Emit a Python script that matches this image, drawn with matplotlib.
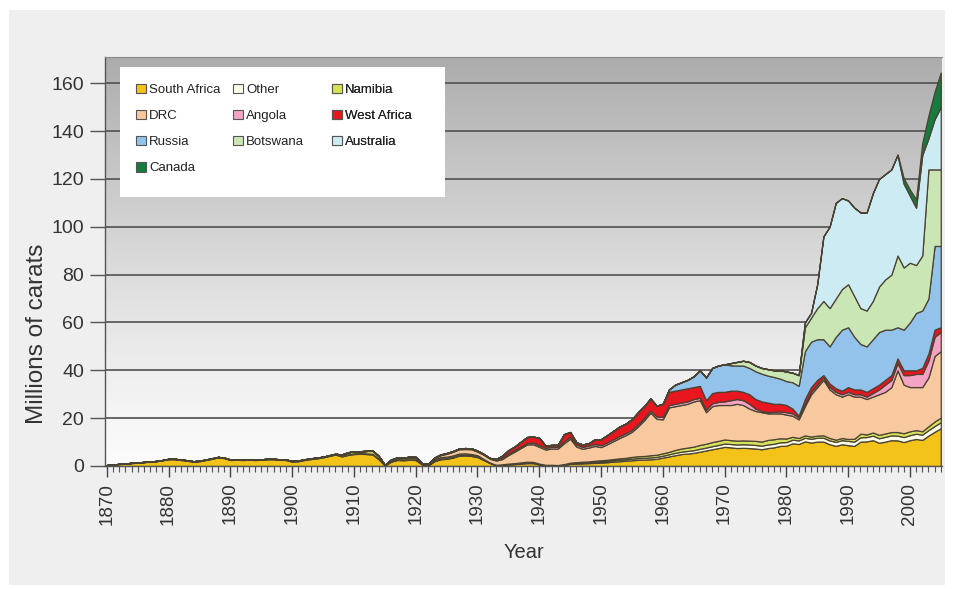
import numpy as np
import matplotlib
matplotlib.use("Agg")
import matplotlib.pyplot as plt
from matplotlib.patches import Rectangle, Patch
from matplotlib.ticker import MultipleLocator

plt.rcParams['font.family'] = ['Liberation Sans', 'DejaVu Sans']

# World rough-diamond production, millions of carats, by producer
years = np.arange(1870, 2006)

south_africa = [
    0.3, 0.5, 0.8, 1.0, 1.2, 1.4, 1.6, 1.8, 2.0, 2.4,
    2.8, 2.8, 2.5, 2.2, 1.8, 2.0, 2.5, 3.0, 3.6, 3.3,
    2.5, 2.6, 2.5, 2.6, 2.5, 2.6, 2.8, 2.8, 2.6, 2.5,
    1.8, 2.0, 2.5, 2.9, 3.2, 3.6, 4.2, 4.8, 4.0, 4.6,
    5.0, 5.1, 5.0, 4.8, 2.8, 0.2, 1.8, 2.5, 2.4, 2.6,
    2.5, 0.7, 0.2, 2.0, 2.8, 3.0, 3.5, 4.3, 4.4, 4.2,
    3.7, 2.5, 1.2, 0.3, 0.5, 0.6, 0.8, 1.0, 1.2, 1.2,
    0.6, 0.2, 0.2, 0.1, 0.4, 0.9, 1.0, 1.1, 1.2, 1.3,
    1.4, 1.6, 1.8, 2.0, 2.2, 2.4, 2.6, 2.7, 2.8, 3.0,
    3.5, 4.0, 4.5, 5.0, 5.2, 5.5, 6.0, 6.5, 7.0, 7.5,
    8.0, 7.8, 7.5, 7.6, 7.5, 7.3, 7.0, 7.5, 7.8, 8.4,
    8.5, 9.5, 9.2, 10.3, 9.8, 10.2, 10.2, 9.1, 8.4, 9.1,
    8.7, 8.4, 10.2, 10.3, 10.8, 9.7, 10.2, 10.8, 10.7, 10.0,
    10.8, 11.3, 10.9, 12.7, 14.3, 15.8,
]

other = [
    0.1, 0.1, 0.1, 0.1, 0.1, 0.1, 0.1, 0.1, 0.1, 0.1,
    0.2, 0.2, 0.2, 0.2, 0.2, 0.2, 0.2, 0.2, 0.2, 0.2,
    0.2, 0.2, 0.2, 0.2, 0.2, 0.2, 0.2, 0.2, 0.2, 0.2,
    0.3, 0.3, 0.3, 0.3, 0.3, 0.3, 0.3, 0.3, 0.3, 0.3,
    0.3, 0.3, 0.3, 0.3, 0.3, 0.1, 0.2, 0.2, 0.2, 0.2,
    0.2, 0.1, 0.1, 0.2, 0.3, 0.3, 0.3, 0.3, 0.3, 0.3,
    0.3, 0.3, 0.2, 0.2, 0.2, 0.3, 0.3, 0.3, 0.4, 0.4,
    0.3, 0.3, 0.3, 0.3, 0.3, 0.4, 0.4, 0.4, 0.4, 0.5,
    0.5, 0.5, 0.6, 0.6, 0.6, 0.7, 0.7, 0.7, 0.8, 0.8,
    0.8, 0.9, 1.0, 1.0, 1.1, 1.1, 1.2, 1.2, 1.3, 1.3,
    1.4, 1.4, 1.5, 1.5, 1.5, 1.5, 1.5, 1.5, 1.5, 1.5,
    1.5, 1.5, 1.5, 1.5, 1.6, 1.6, 1.6, 1.6, 1.7, 1.7,
    1.8, 1.8, 1.8, 1.8, 1.9, 1.9, 2.0, 2.0, 2.0, 2.1,
    2.1, 2.2, 2.2, 2.3, 2.4, 2.5,
]

namibia_start = 1908
namibia = [
    0.5, 0.8,
    0.9, 0.8, 1.0, 1.2, 1.0, 0.1, 0.5, 0.6, 0.6, 0.6,
    0.6, 0.1, 0.1, 0.5, 0.6, 0.6, 0.6, 0.6, 0.6, 0.5,
    0.5, 0.1, 0.05, 0.0, 0.0, 0.1, 0.1, 0.2, 0.2, 0.1,
    0.1, 0.0, 0.0, 0.0, 0.1, 0.1, 0.2, 0.3, 0.3, 0.4,
    0.5, 0.5, 0.5, 0.6, 0.6, 0.7, 0.8, 0.8, 0.9, 0.9,
    1.0, 1.0, 1.2, 1.3, 1.4, 1.5, 1.6, 1.6, 1.7, 1.7,
    1.7, 1.6, 1.6, 1.6, 1.6, 1.7, 1.7, 1.9, 1.9, 1.7,
    1.5, 1.2, 1.0, 1.0, 0.9, 0.9, 1.0, 1.0, 0.9, 0.9,
    0.8, 1.2, 1.5, 1.1, 1.3, 1.4, 1.4, 1.4, 1.5, 1.6,
    1.6, 1.5, 1.4, 1.6, 1.9, 1.9,
]

drc_start = 1913
drc = [
    0.2, 0.1, 0.1, 0.2, 0.2, 0.2, 0.3,
    0.3, 0.2, 0.4, 0.6, 0.8, 1.2, 1.5, 1.8, 1.8, 2.0,
    1.5, 1.8, 1.6, 1.8, 2.2, 3.6, 4.8, 6.0, 7.2, 7.4,
    7.0, 6.4, 6.8, 6.9, 8.7, 10.0, 6.5, 5.4, 5.8, 6.2,
    5.5, 6.5, 7.5, 8.5, 9.5, 10.5, 12.5, 15.0, 17.8, 15.0,
    14.2, 18.6, 18.3, 18.2, 18.3, 18.9, 18.7, 13.2, 15.0, 15.0,
    14.4, 14.7, 15.4, 14.8, 13.4, 12.5, 12.3, 11.1, 10.8, 10.4,
    10.0, 8.8, 7.8, 12.2, 17.7, 20.3, 23.2, 20.3, 19.0, 17.3,
    18.7, 17.6, 15.5, 14.8, 15.0, 17.0, 17.4, 18.8, 25.8, 20.3,
    18.5, 18.0, 18.5, 20.4, 27.4, 27.8,
]

angola_start = 1917
angola = [
    0.1, 0.1, 0.2,
    0.2, 0.1, 0.1, 0.2, 0.3, 0.3, 0.3, 0.3, 0.4, 0.4,
    0.4, 0.3, 0.3, 0.3, 0.4, 0.5, 0.6, 0.6, 0.6, 0.7,
    0.7, 0.7, 0.7, 0.7, 0.8, 0.8, 0.8, 0.8, 0.8, 0.8,
    0.8, 0.8, 0.8, 0.8, 0.8, 0.8, 0.9, 0.9, 0.9, 1.0,
    1.0, 1.0, 1.0, 1.0, 1.0, 1.0, 1.0, 1.0, 1.2, 1.3,
    1.5, 2.0, 2.0, 2.0, 2.0, 1.0, 0.5, 0.5, 0.7, 0.8,
    1.0, 1.0, 0.8, 1.0, 1.0, 1.0, 1.0, 1.0, 1.0, 1.0,
    1.0, 1.0, 1.0, 1.0, 1.5, 2.0, 3.0, 3.0, 3.0, 4.0,
    5.0, 5.5, 5.5, 7.0, 8.0, 8.0,
]

west_africa_start = 1933
west_africa = [
    0.3, 1.0, 1.5, 1.5, 2.0, 2.5, 2.5,
    3.0, 1.0, 0.8, 0.8, 3.0, 2.0, 1.0, 1.0, 1.0, 2.0,
    2.5, 3.0, 3.5, 4.0, 4.0, 4.5, 5.0, 5.0, 5.0, 4.5,
    5.5, 5.5, 5.5, 5.5, 5.5, 5.0, 5.0, 4.0, 4.3, 4.2,
    4.0, 4.0, 3.5, 3.5, 4.0, 4.0, 4.0, 4.0, 3.3, 3.2,
    3.0, 2.0, 0.7, 2.0, 2.0, 2.0, 1.0, 1.5, 1.5, 1.5,
    2.0, 2.0, 2.0, 2.0, 2.0, 2.0, 2.0, 2.0, 2.0, 2.0,
    2.0, 1.5, 2.5, 3.0, 3.0, 2.0,
]

russia_start = 1961
russia = [
    1.0, 2.5, 3.0, 3.5, 4.5, 6.5, 9.5, 10.5, 11.0,
    11.5, 10.6, 10.5, 11.0, 11.0, 11.6, 11.6, 11.3, 11.2, 10.5,
    10.0, 11.0, 12.5, 20.0, 19.0, 17.0, 15.0, 15.5, 21.5, 25.5,
    25.0, 22.0, 19.0, 19.0, 20.5, 22.0, 21.0, 19.0, 13.0, 17.0,
    20.0, 24.0, 24.0, 23.0, 35.0, 34.0,
]

botswana_start = 1971
botswana = [
    0.9, 1.5, 2.0, 2.5, 2.4, 2.4, 2.7, 2.8, 3.5,
    4.0, 4.0, 4.5, 10.0, 10.0, 13.0, 16.0, 16.0, 16.0, 17.0,
    18.0, 17.0, 15.0, 15.0, 16.0, 19.0, 21.0, 23.0, 30.0, 26.0,
    25.0, 20.0, 23.0, 54.0, 32.0, 32.0,
]

australia_start = 1983
australia = [
    2.0, 2.0, 10.0, 27.0, 34.0, 40.0, 38.0,
    35.0, 37.0, 40.0, 41.0, 45.0, 45.0, 44.0, 44.0, 42.0, 35.0,
    28.0, 24.0, 42.0, 13.0, 21.0, 26.0,
]

canada_start = 1998
canada = [0.3, 2.4, 2.6, 3.5, 5.0, 9.5, 11.5, 14.5]

labels = ["South Africa", "Other", "Namibia", "DRC", "Angola",
          "West Africa", "Russia", "Botswana", "Australia", "Canada"]
colors = ["#f3c319", "#fbfbe6", "#d6e15c", "#f8c89e", "#f4a3c4",
          "#e8161f", "#93c2ea", "#cbe6b5", "#cdebf3", "#177a3e"]


def full_series(start, values):
    out = np.zeros(len(years))
    i = start - years[0]
    out[i:i + len(values)] = values
    return out


stack = [
    np.asarray(south_africa, float),
    np.asarray(other, float),
    full_series(namibia_start, namibia),
    full_series(drc_start, drc),
    full_series(angola_start, angola),
    full_series(west_africa_start, west_africa),
    full_series(russia_start, russia),
    full_series(botswana_start, botswana),
    full_series(australia_start, australia),
    full_series(canada_start, canada),
]

W, H = 954, 589
fig = plt.figure(figsize=(W / 100, H / 100), dpi=100)
fig.patch.set_facecolor("white")
# light grey panel behind the whole chart
fig.add_artist(Rectangle((9 / W, 4 / H), (945 - 9) / W, (579 - 4) / H,
                         transform=fig.transFigure, facecolor="#efefef",
                         edgecolor="none", zorder=-10))

ax = fig.add_axes([105 / W, 1 - 466 / H, (942 - 105) / W, (466 - 57) / H])
x0, x1, y1 = 1869.7, 2005.2, 171

# vertical grey-to-white gradient background (dark at the top)
g = np.linspace(1, 0, 256)
shade = 0.985 - 0.31 * g ** 1.25
grad = np.repeat(np.stack([shade, shade, shade], axis=-1)[:, None, :], 4,
                 axis=1)
ax.imshow(grad, extent=[x0, x1, 0, y1], aspect="auto", zorder=0,
          interpolation="bicubic")

ax.stackplot(years, *stack, colors=colors, edgecolor="#4a4232",
             linewidth=0.9, zorder=2)

ax.set_xlim(x0, x1)
ax.set_ylim(0, y1)
ax.set_axisbelow(True)
ax.yaxis.grid(True, color="#505050", linewidth=1.2, zorder=1)

ax.xaxis.set_minor_locator(MultipleLocator(1))
ax.set_yticks(np.arange(0, 161, 20))
ax.set_xticks(np.arange(1870, 2001, 10))
ax.tick_params(axis="x", which="major", direction="out", length=8,
               width=1, color="#444444", labelsize=13.5,
               labelcolor="#333333", labelrotation=90, pad=4)
ax.tick_params(axis="x", which="minor", direction="out", length=4,
               width=0.8, color="#555555")
ax.tick_params(axis="y", direction="out", length=11, width=1,
               color="#555555", labelsize=14, labelcolor="#333333", pad=4)

for side in ("left", "bottom"):
    ax.spines[side].set_color("#555555")
    ax.spines[side].set_linewidth(1.0)
ax.spines["top"].set_color("#888888")
ax.spines["right"].set_visible(False)

ax.set_xlabel("Year", fontsize=14.5, color="#333333")
ax.xaxis.set_label_coords(0.5, -0.188)
ax.set_ylabel("Millions of carats", fontsize=17.5, color="#333333")
ax.yaxis.set_label_coords(-0.068, 0.323)

# white legend panel
ax.add_patch(Rectangle((0.018, 0.658), 0.388, 0.318, transform=ax.transAxes,
                       facecolor="white", edgecolor="none", zorder=4))

handles = [Patch(facecolor=c, edgecolor="#555555", linewidth=0.8)
           for c in colors]
columns = [[0, 3, 6, 9], [1, 4, 7], [2, 5, 8]]
col_x = [0.0375, 0.1535, 0.2718]
for cx, idx in zip(col_x, columns):
    leg = ax.legend([handles[i] for i in idx], [labels[i] for i in idx],
                    loc="upper left", bbox_to_anchor=(cx, 0.935),
                    frameon=False, fontsize=9.5, handlelength=0.72,
                    handleheight=0.72, handletextpad=0.25,
                    labelspacing=1.05, borderpad=0, borderaxespad=0)
    for t in leg.get_texts():
        t.set_color("#222222")
    leg.set_zorder(5)
    ax.add_artist(leg)

fig.savefig("out.png", dpi=100, facecolor=fig.get_facecolor())
